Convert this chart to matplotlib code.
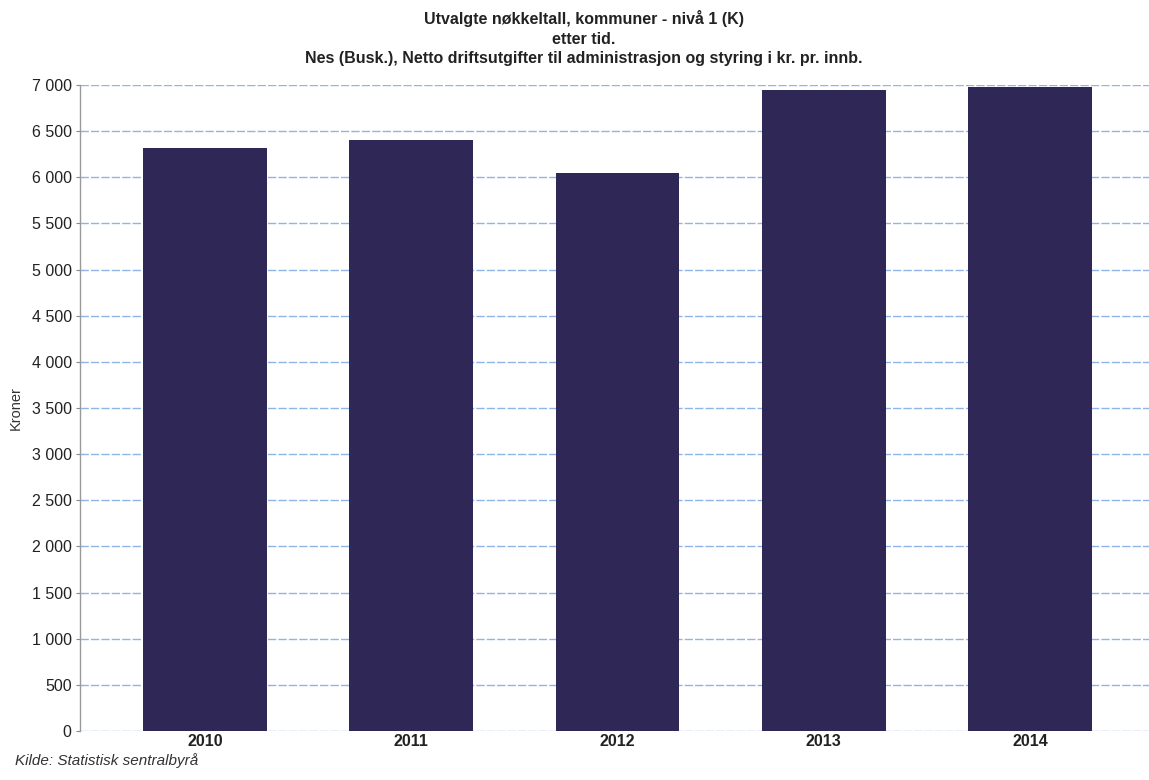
import matplotlib
matplotlib.use("Agg")
import matplotlib.pyplot as plt
import numpy as np

years = ["2010", "2011", "2012", "2013", "2014"]
values = [6312, 6401, 6046, 6946, 6982]
yticks = list(range(0, 7001, 500))
ytick_labels = [f"{v:,}".replace(",", " ") for v in yticks]

title_lines = ["Utvalgte nøkkeltall, kommuner - nivå 1 (K)",
               "etter tid.",
               "Nes (Busk.), Netto driftsutgifter til administrasjon og styring i kr. pr. innb."]

plt.rcParams['font.family'] = ["Liberation Sans", "DejaVu Sans"]

fig = plt.figure(figsize=(11.49, 7.8), dpi=100)
ax = fig.add_axes([80/1149, 49/780, (1149-80)/1149, (731-85)/780])

x = np.arange(len(years))
ax.bar(x, values, width=0.6, color="#2f2755", zorder=3)

ax.set_ylim(0, 7000)
ax.set_xlim(-0.606, 4.577)
ax.set_yticks(yticks)
ax.set_yticklabels(ytick_labels, fontsize=11.5, color="#222222")
ax.set_xticks(x)
ax.set_xticklabels(years, fontsize=11.5, fontweight="bold", color="#222222")
ax.tick_params(axis="x", length=0, pad=2)
ax.tick_params(axis="y", length=3, color="#888888", pad=3)

ax.grid(axis="y", color="#8fb4e6", linewidth=1.0, linestyle=(0, (6, 1.5)), zorder=1)
for s in ["top", "right", "bottom"]:
    ax.spines[s].set_visible(False)
ax.spines["left"].set_color("#999999")
ax.spines["left"].set_linewidth(1.0)

ax.set_ylabel("Kroner", fontsize=10.5, color="#333333", labelpad=6)

for yy, line in zip([18.5, 39, 59], title_lines):
    fig.text(0.508, 1 - yy/780, line, ha="center", va="center",
             fontsize=11.5, fontweight="bold", color="#222222")

fig.text(15/1149, 1 - 761/780, "Kilde: Statistisk sentralbyrå", ha="left", va="center",
         fontsize=11, style="italic", color="#333333")

fig.savefig("out.png", dpi=100, facecolor="white")
